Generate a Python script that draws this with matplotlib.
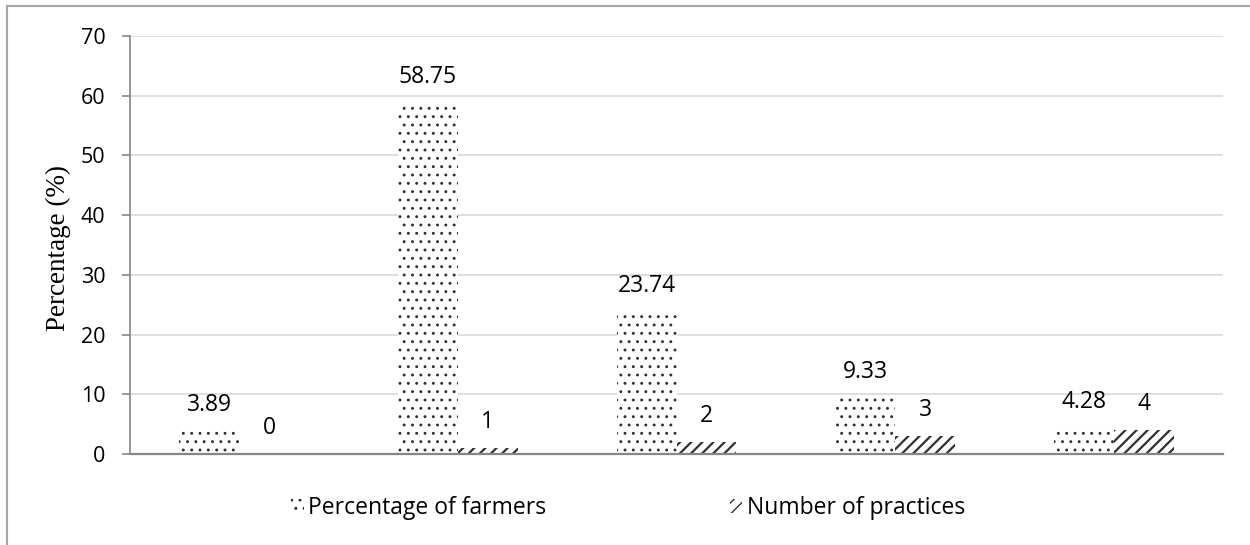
import matplotlib
matplotlib.use("Agg")
import matplotlib.pyplot as plt
from matplotlib.lines import Line2D
import numpy as np

# ---- data ----
groups = ["0", "1", "2", "3", "4"]
pct_farmers = [3.89, 58.75, 23.74, 9.33, 4.28]
num_practices = [0, 1, 2, 3, 4]
farmer_labels = ["3.89", "58.75", "23.74", "9.33", "4.28"]
practice_labels = ["0", "1", "2", "3", "4"]
series_names = ["Percentage of farmers", "Number of practices"]
yticks = [0, 10, 20, 30, 40, 50, 60, 70]

sans = ['Open Sans', 'DejaVu Sans']

W, H = 1250, 545
fig = plt.figure(figsize=(W / 100, H / 100), dpi=100)
ax = fig.add_axes([130 / W, 1 - 454 / H, (1223 - 130) / W, (454 - 36) / H])

x = np.arange(len(groups))
bw = 0.274
with plt.rc_context({'hatch.linewidth': 0.9}):
    b1 = ax.bar(x - bw / 2, pct_farmers, bw, facecolor='white', edgecolor='#303030',
                linewidth=0, hatch='..', label=series_names[0], zorder=2)
with plt.rc_context({'hatch.linewidth': 1.6}):
    b2 = ax.bar(x + bw / 2, num_practices, bw, facecolor='white', edgecolor='#303030',
                linewidth=0, hatch='///', label=series_names[1], zorder=2)

for rect, lab in zip(b1, farmer_labels):
    ax.annotate(lab, (rect.get_x() + rect.get_width() / 2, rect.get_height()),
                xytext=(0, 14.4), textcoords='offset points', ha='center',
                va='baseline', fontsize=16.5, family=sans, color='black')
for rect, lab in zip(b2, practice_labels):
    ax.annotate(lab, (rect.get_x() + rect.get_width() / 2, rect.get_height()),
                xytext=(0, 14.4), textcoords='offset points', ha='center',
                va='baseline', fontsize=16.5, family=sans, color='black')

ax.set_xlim(-0.5, len(groups) - 0.5)
ax.set_ylim(0, 70)
ax.set_yticks(yticks)
ax.set_yticklabels([str(t) for t in yticks], fontsize=15.5, family=sans)
ax.set_xticks([])
ax.tick_params(axis='y', length=5.8, width=1.2, color='#868686', pad=12)
ax.grid(axis='y', color='#d9d9d9', linewidth=1.2, zorder=0)
ax.set_axisbelow(True)
for s in ['top', 'right']:
    ax.spines[s].set_visible(False)
ax.spines['left'].set_color('#868686')
ax.spines['left'].set_linewidth(1.2)
ax.spines['bottom'].set_color('#868686')
ax.spines['bottom'].set_linewidth(1.6)

ax.set_ylabel("Percentage (%)", family=['Liberation Serif', 'DejaVu Serif'], fontsize=19.5)
ax.yaxis.set_label_coords((58 - 130) / (1223 - 130), (454 - 248) / (454 - 36))
ax.yaxis.label.set_verticalalignment('center')

fig.legend(handles=[b1, b2], labels=series_names, loc='center',
           bbox_to_anchor=(628 / W, 1 - 508 / H), ncol=2, frameon=False,
           prop={'family': sans, 'size': 16.5}, handlelength=0.55,
           handleheight=0.55, handletextpad=0.2, columnspacing=8.0)

# outer chart border
fig.add_artist(Line2D([7 / W, 7 / W], [0, 1 - 6 / H], transform=fig.transFigure,
                      color='#a6a6a6', linewidth=1.5))
fig.add_artist(Line2D([7 / W, 1], [1 - 6 / H, 1 - 6 / H], transform=fig.transFigure,
                      color='#a6a6a6', linewidth=1.5))

fig.savefig("out.png", dpi=100, facecolor='white')
